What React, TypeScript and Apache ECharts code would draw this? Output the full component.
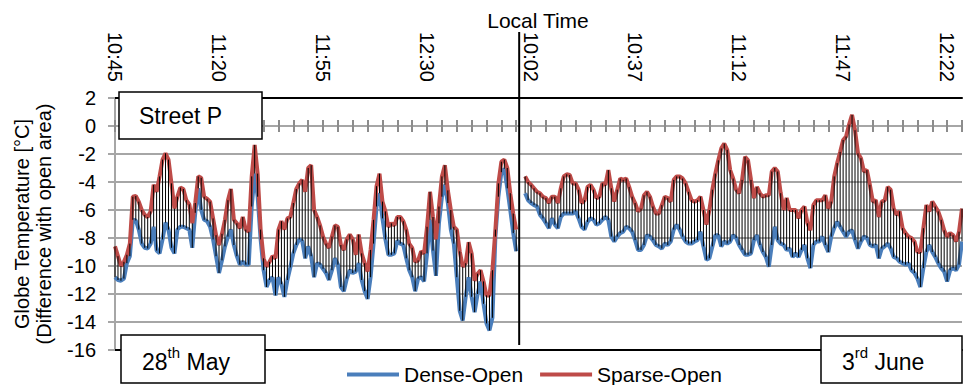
import React, { useEffect, useRef } from "react";
import * as echarts from "echarts";

// ---- data (°C, difference with open area), one value per minute ----
const day1Start = "10:45";
const day2Start = "10:00";
const gapLabels = ["13:01", "09:59"];

const denseDay1 = [
  -10.8, -11.0, -11.05, -10.9, -9.8, -9.3, -6.7, -6.75, -7.4, -8.4,
  -8.7, -8.75, -8.4, -7.2, -8.9, -9.1, -8.1, -6.9, -7.4, -8.7,
  -9.1, -7.4, -7.2, -7.2, -7.3, -7.4, -8.7, -6.2, -4.45, -6.0,
  -6.7, -6.8, -7.2, -8.1, -9.3, -10.5, -9.6, -8.6, -7.9, -7.4,
  -8.5, -9.3, -9.9, -9.7, -9.9, -9.9, -5.75, -3.4, -5.05, -8.1,
  -10.3, -11.5, -11.0, -10.8, -12.1, -10.8, -11.3, -12.2, -11.0, -10.1,
  -9.1, -8.5, -8.1, -8.2, -9.45, -8.6, -9.3, -10.8, -9.8, -9.9,
  -10.2, -10.5, -11.0, -10.3, -9.45, -9.9, -11.5, -11.8, -10.9, -10.3,
  -10.5, -10.4, -9.8, -11.0, -11.8, -12.35, -10.8, -8.4, -5.75, -4.8,
  -6.6, -8.1, -9.2, -9.2, -9.1, -8.2, -8.4, -8.5, -9.45, -10.3,
  -10.8, -11.8, -10.9, -10.8, -11.1, -9.1, -6.7, -8.9, -10.7, -6.95,
  -5.05, -4.2, -5.5, -7.4, -8.4, -10.8, -13.2, -13.9, -12.2, -10.8,
  -12.2, -13.3, -12.0, -11.1, -12.7, -14.1, -14.6, -13.7, -7.9, -5.05,
  -3.3, -3.05, -4.45, -6.0, -7.65, -8.95,
];
const sparseDay1 = [
  -8.6, -9.3, -10.0, -9.7, -9.2, -8.4, -5.05, -5.0, -5.4, -6.0,
  -6.35, -6.5, -6.1, -4.2, -4.7, -3.6, -2.4, -1.95, -2.4, -4.1,
  -5.9, -5.05, -4.4, -4.5, -5.3, -5.6, -6.95, -5.5, -3.6, -3.7,
  -5.05, -5.2, -5.4, -6.6, -7.8, -8.5, -7.7, -6.7, -5.3, -4.5,
  -6.7, -6.95, -7.3, -6.5, -7.4, -7.55, -3.6, -1.35, -3.4, -7.4,
  -9.45, -10.05, -9.7, -9.3, -9.45, -7.4, -6.8, -7.4, -6.6, -6.5,
  -5.5, -4.5, -4.1, -3.85, -4.7, -3.0, -2.8, -6.0, -6.5, -7.1,
  -7.9, -8.4, -8.7, -7.9, -7.1, -7.2, -8.5, -8.85, -8.1, -7.75,
  -8.1, -9.2, -7.75, -9.1, -9.8, -10.4, -8.85, -6.7, -4.3, -3.4,
  -5.4, -6.1, -7.2, -6.95, -7.1, -6.5, -6.5, -6.8, -7.4, -8.4,
  -8.7, -9.7, -9.6, -8.95, -9.1, -7.2, -4.7, -6.5, -8.1, -5.75,
  -3.6, -2.8, -4.6, -6.0, -7.2, -7.4, -8.95, -10.05, -9.8, -8.3,
  -9.1, -11.05, -10.55, -10.3, -11.1, -12.1, -12.1, -10.3, -7.4, -4.1,
  -2.55, -2.4, -3.0, -4.8, -6.25, -7.4,
];
const denseDay2 = [
  -4.8, -5.3, -5.5, -5.65, -5.75, -6.35, -6.6, -6.95, -7.3, -6.6,
  -7.05, -7.3, -6.5, -6.25, -6.25, -6.25, -6.25, -6.1, -6.6, -7.2,
  -7.4, -6.85, -6.6, -6.7, -7.05, -6.95, -6.7, -6.5, -6.7, -7.9,
  -8.25, -7.9, -7.65, -7.55, -7.2, -7.3, -7.55, -8.15, -8.85, -8.85,
  -8.5, -7.8, -7.9, -8.15, -8.5, -8.6, -8.75, -8.4, -8.5, -8.25,
  -7.4, -7.05, -7.4, -7.9, -8.25, -8.4, -8.4, -8.25, -8.15, -7.55,
  -8.6, -9.55, -9.45, -8.6, -7.8, -7.8, -8.6, -8.25, -8.4, -8.25,
  -7.8, -8.0, -8.5, -8.85, -9.2, -9.2, -9.1, -8.15, -7.8, -8.5,
  -9.0, -9.35, -10.05, -8.5, -7.2, -8.15, -8.4, -8.5, -8.85, -8.75,
  -9.35, -9.1, -9.35, -8.85, -8.5, -9.45, -10.15, -8.5, -8.25, -8.25,
  -7.9, -8.5, -9.0, -7.9, -7.3, -6.85, -7.2, -7.55, -7.9, -7.55,
  -7.45, -8.15, -8.75, -8.25, -7.9, -8.0, -8.5, -8.6, -8.5, -9.45,
  -8.75, -8.6, -8.4, -8.75, -9.35, -9.45, -9.7, -9.8, -9.9, -9.8,
  -10.3, -10.5, -10.9, -11.5, -10.15, -9.0, -8.5, -9.0, -9.35, -9.8,
  -10.15, -10.4, -11.1, -10.3, -10.15, -10.3, -9.9, -8.25,
];
const sparseDay2 = [
  -3.6, -4.0, -4.2, -4.45, -4.7, -4.8, -5.05, -5.15, -5.5, -5.05,
  -5.05, -5.5, -4.45, -3.6, -3.45, -3.5, -4.1, -4.1, -4.55, -5.5,
  -5.3, -4.35, -4.2, -4.55, -5.15, -5.05, -4.1, -4.2, -3.15, -4.45,
  -5.4, -4.55, -3.75, -3.85, -3.75, -4.35, -5.05, -5.5, -6.1, -5.9,
  -4.95, -4.7, -5.05, -5.75, -6.25, -6.25, -5.65, -5.05, -5.15, -5.4,
  -3.85, -3.6, -3.6, -3.75, -4.1, -4.7, -5.3, -5.4, -5.3, -5.05,
  -6.0, -7.05, -6.0, -4.55, -3.4, -2.45, -1.6, -1.25, -1.7, -3.15,
  -3.75, -4.55, -4.8, -3.85, -2.2, -2.45, -3.85, -5.15, -4.35, -4.8,
  -5.05, -4.95, -4.95, -3.25, -3.0, -3.25, -4.8, -6.0, -5.15, -6.0,
  -6.0, -6.0, -6.6, -6.0, -5.75, -6.95, -7.45, -5.65, -5.3, -5.3,
  -5.3, -4.95, -5.9, -5.4, -3.6, -2.65, -1.85, -1.0, -0.75, 0.1,
  0.8, -0.3, -1.95, -2.3, -3.25, -3.15, -4.2, -5.4, -5.3, -6.5,
  -5.4, -5.3, -4.35, -4.55, -5.9, -6.35, -6.1, -7.3, -7.65, -7.9,
  -8.0, -8.25, -9.0, -9.0, -7.3, -5.65, -6.1, -5.4, -5.75, -6.1,
  -6.7, -7.45, -7.9, -7.65, -7.8, -8.25, -7.55, -5.9,
];

const seriesNames = ["Dense-Open", "Sparse-Open"];
const yAxisTitle = "Globe Temperature [°C]\n(Difference with open area)";
const xAxisTitle = "Local Time";
const siteLabel = "Street P";

function minuteLabels(start: string, n: number): string[] {
  const [h, m] = start.split(":").map(Number);
  const out: string[] = [];
  for (let k = 0; k < n; k++) {
    const t = h * 60 + m + k;
    out.push(`${Math.floor(t / 60)}:${String(t % 60).padStart(2, "0")}`);
  }
  return out;
}

const categories = [
  ...minuteLabels(day1Start, denseDay1.length),
  ...gapLabels,
  ...minuteLabels(day2Start, denseDay2.length),
];
const gapNulls = gapLabels.map(() => null);
const dense: (number | null)[] = [...denseDay1, ...gapNulls, ...denseDay2];
const sparse: (number | null)[] = [...sparseDay1, ...gapNulls, ...sparseDay2];
const dayBreakIndex = denseDay1.length;

const FONT = "'Liberation Sans', Arial, sans-serif";

export default function App() {
  const ref = useRef<HTMLDivElement>(null);
  useEffect(() => {
    if (!ref.current) return;
    const chart = echarts.init(ref.current, null, { renderer: "svg" });

    const hiLo: number[][] = [];
    dense.forEach((d, i) => {
      const s = sparse[i];
      if (d != null && s != null) hiLo.push([i, Math.min(d, s), Math.max(d, s)]);
    });

    const zeroAxis = (inside: boolean) => ({
      type: "category",
      data: categories,
      position: "bottom",
      boundaryGap: false,
      axisLine: { show: true, onZero: true, onZeroAxisIndex: 0, lineStyle: { color: "#a6a6a6", width: 2 } },
      axisTick: { show: true, interval: 4, length: 6, inside, lineStyle: { color: "#8c8c8c", width: 2 } },
      axisLabel: { show: false },
      splitLine: { show: false },
    });

    const option: any = {
      animation: false,
      textStyle: { fontFamily: FONT, color: "#000" },
      grid: { left: 115, right: 1, top: 98, bottom: 35 },
      legend: {
        data: seriesNames,
        icon: "rect",
        left: 347,
        top: 364,
        itemWidth: 52,
        itemHeight: 4,
        itemGap: 17,
        padding: 0,
        textStyle: { fontSize: 21, color: "#000", fontFamily: FONT },
      },
      xAxis: [
        {
          type: "category",
          data: categories,
          position: "top",
          boundaryGap: false,
          axisLine: { show: true, onZero: false, lineStyle: { color: "#000", width: 2 } },
          axisTick: { show: false },
          axisLabel: { interval: 34, rotate: 90, margin: 16, fontSize: 20, color: "#000", fontFamily: FONT },
          splitLine: { show: false },
        },
        zeroAxis(false),
        zeroAxis(true),
        {
          type: "category",
          data: categories,
          position: "bottom",
          boundaryGap: false,
          axisLine: { show: true, onZero: false, lineStyle: { color: "#000", width: 2 } },
          axisTick: { show: false },
          axisLabel: { show: false },
          splitLine: { show: false },
        },
      ],
      yAxis: {
        type: "value",
        min: -16,
        max: 2,
        interval: 2,
        name: yAxisTitle,
        nameLocation: "middle",
        nameRotate: 90,
        nameGap: 60,
        nameTextStyle: { fontSize: 20, lineHeight: 22, color: "#000", fontFamily: FONT, width: 400, overflow: "none" },
        axisLine: { show: true, lineStyle: { color: "#a6a6a6", width: 2 } },
        axisTick: { show: true, length: 7, lineStyle: { color: "#a6a6a6", width: 2 } },
        axisLabel: { fontSize: 20, margin: 19, color: "#000", fontFamily: FONT },
        splitLine: { show: true, lineStyle: { color: "#a6a6a6", width: 2 } },
      },
      series: [
        {
          name: seriesNames[0],
          type: "line",
          xAxisIndex: 0,
          data: dense,
          symbol: "none",
          connectNulls: false,
          lineStyle: { color: "#4a7ebb", width: 4 },
          itemStyle: { color: "#4a7ebb" },
          z: 2,
        },
        {
          name: seriesNames[1],
          type: "line",
          xAxisIndex: 0,
          data: sparse,
          symbol: "none",
          connectNulls: false,
          lineStyle: { color: "#be4b48", width: 4 },
          itemStyle: { color: "#be4b48" },
          z: 3,
        },
        {
          name: "hilo",
          type: "custom",
          xAxisIndex: 0,
          data: hiLo,
          encode: { x: 0, y: [1, 2] },
          z: 4,
          renderItem: (_p: any, api: any) => {
            const i = api.value(0);
            const a = api.coord([i, api.value(1)]);
            const b = api.coord([i, api.value(2)]);
            return {
              type: "line",
              shape: { x1: a[0], y1: a[1], x2: b[0], y2: b[1] },
              style: { stroke: "#000", lineWidth: 1 },
            };
          },
        },
      ],
    };
    chart.setOption(option);

    const xb = chart.convertToPixel({ xAxisIndex: 0 }, dayBreakIndex) as number;
    const boxStyle = { fill: "#fff", stroke: "#000", lineWidth: 1.5 };
    const rich = {
      a: { fontSize: 23, fontFamily: FONT, lineHeight: 28, verticalAlign: "bottom", fill: "#000" },
      s: { fontSize: 15, fontFamily: FONT, lineHeight: 16, verticalAlign: "top", fill: "#000" },
    };
    chart.setOption({
      graphic: [
        { type: "line", z: 90, shape: { x1: xb, y1: 32, x2: xb, y2: 345 }, style: { stroke: "#000", lineWidth: 2 } },
        { type: "text", z: 100, x: 538, y: 20, style: { text: xAxisTitle, fontSize: 21, fontFamily: FONT, fill: "#000", align: "center", verticalAlign: "middle" } },
        { type: "rect", z: 100, shape: { x: 119, y: 92, width: 143, height: 47 }, style: boxStyle },
        { type: "text", z: 101, x: 139, y: 116, style: { text: siteLabel, fontSize: 23, fontFamily: FONT, fill: "#000", verticalAlign: "middle" } },
        { type: "rect", z: 100, shape: { x: 121, y: 335, width: 144, height: 48 }, style: boxStyle },
        { type: "text", z: 101, x: 142, y: 359, style: { text: "{a|28}{s|th}{a| May}", rich, verticalAlign: "middle" } },
        { type: "rect", z: 100, shape: { x: 821, y: 336, width: 141, height: 47 }, style: boxStyle },
        { type: "text", z: 101, x: 842, y: 359, style: { text: "{a|3}{s|rd}{a| June}", rich, verticalAlign: "middle" } },
      ],
    });

    return () => chart.dispose();
  }, []);
  return <div ref={ref} style={{ width: 963, height: 385, position: "absolute", left: 0, top: 0 }} />;
}
